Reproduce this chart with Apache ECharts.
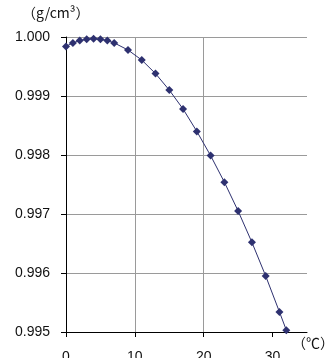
<!DOCTYPE html>
<html>
<head>
<meta charset="utf-8">
<script src="https://cdn.jsdelivr.net/npm/echarts@6/dist/echarts.min.js"></script>
<style>
  html, body { margin: 0; padding: 0; background: #fff; }
  #chart { width: 331px; height: 358px; }
</style>
</head>
<body>
<div id="chart"></div>
<script>
// Density of water (g/cm³) against temperature (°C)
const temperatures = [0, 1, 2, 3, 4, 5, 6, 7, 9, 11, 13, 15, 17, 19, 21, 23, 25, 27, 29, 31, 32];
const densities = [0.99984, 0.99990, 0.99994, 0.99996, 0.99997, 0.99996, 0.99994, 0.99990,
  0.99978, 0.99961, 0.99938, 0.99910, 0.99878, 0.99840, 0.99799, 0.99754,
  0.99705, 0.99652, 0.99595, 0.99534, 0.99503];
const xTicks = [0, 10, 20, 30];
const yUnit = '（g/cm³）';
const xUnit = '（℃）';

const points = temperatures.map((t, i) => [t, densities[i]]);
const labelFont = 'Liberation Sans, Arial, sans-serif';

const chart = echarts.init(document.getElementById('chart'), null, { renderer: 'canvas' });
chart.setOption({
  animation: false,
  backgroundColor: '#fff',
  grid: { left: 66, right: 24, top: 37, bottom: 26, containLabel: false, outerBoundsMode: 'none' },
  xAxis: {
    type: 'value',
    min: 0, max: 35, interval: 10,
    axisLine: { show: true, onZero: false, lineStyle: { color: '#000', width: 1 } },
    axisTick: { show: true, length: 5, customValues: xTicks, lineStyle: { color: '#000' } },
    axisLabel: { customValues: xTicks, margin: 18, fontSize: 14, color: '#111', fontFamily: labelFont },
    splitLine: { show: true, showMinLine: false, showMaxLine: false, lineStyle: { color: '#9a9a9a', width: 1 } }
  },
  yAxis: {
    type: 'value',
    min: 0.995, max: 1.000, interval: 0.001,
    axisLine: { show: true, lineStyle: { color: '#000', width: 1 } },
    axisTick: { show: true, length: 5, lineStyle: { color: '#000' } },
    axisLabel: { margin: 16, fontSize: 14, color: '#111', fontFamily: labelFont,
      formatter: v => v.toFixed(3) },
    splitLine: { show: true, showMinLine: false, lineStyle: { color: '#9a9a9a', width: 1 } }
  },
  graphic: [
    { type: 'text', left: 22, top: 6,
      style: { text: yUnit, fontSize: 14, fill: '#111', fontFamily: 'Noto Sans CJK JP, sans-serif' } },
    { type: 'text', left: 292, top: 336,
      style: { text: xUnit, fontSize: 14, fill: '#111', fontFamily: 'Noto Sans CJK JP, sans-serif' } }
  ],
  series: [{
    type: 'line',
    data: points,
    symbol: 'diamond',
    symbolSize: 8,
    clip: false,
    lineStyle: { color: '#2E3170', width: 1 },
    itemStyle: { color: '#2E3170' }
  }]
});
</script>
</body>
</html>
